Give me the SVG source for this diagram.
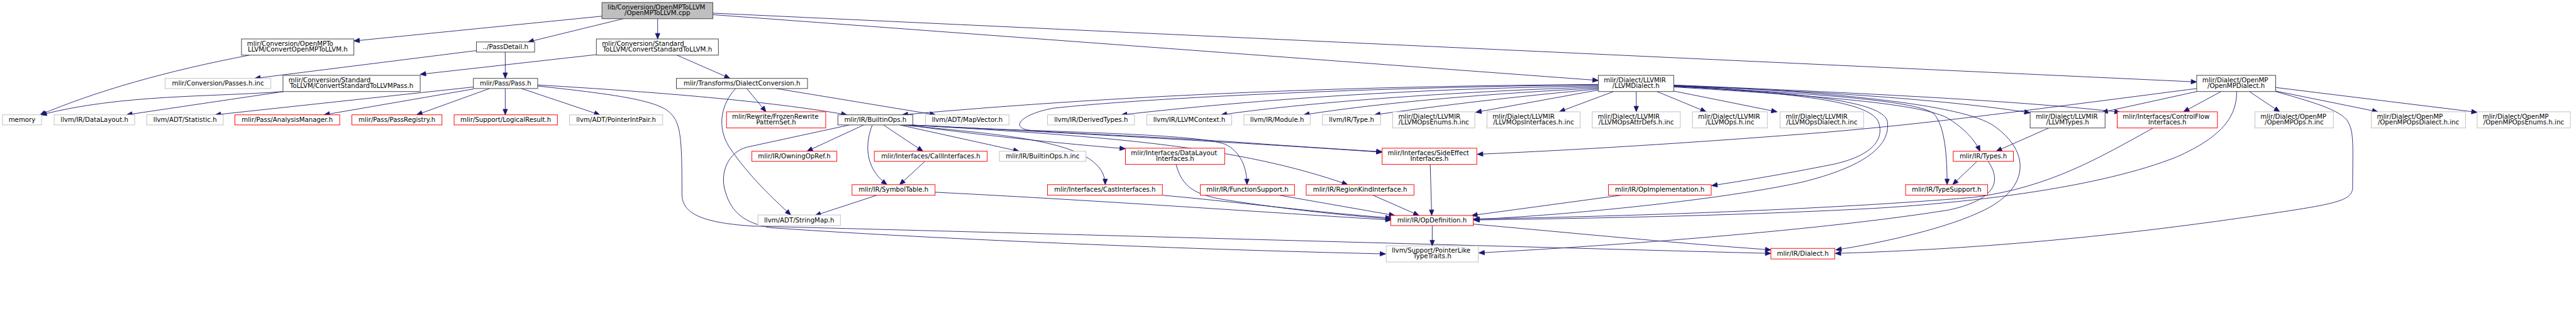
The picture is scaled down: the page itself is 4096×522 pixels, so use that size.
<svg xmlns="http://www.w3.org/2000/svg" width="4096" height="522" viewBox="0 0 4096 522">
<style>
.n rect{fill:#fff;stroke-width:1.2}
.k rect{stroke:#404040}
.g rect{stroke:#bfbfbf}
.r rect{stroke:#ff0000}
.root rect{fill:#bfbfbf;stroke:#404040}
text{font-family:"DejaVu Sans",sans-serif;font-size:12.7px;fill:#000}
.c{text-anchor:middle}
#edges path{fill:none;stroke:#191970;stroke-width:1.1;marker-end:url(#a)}
</style>
<defs>
<marker id="a" markerUnits="userSpaceOnUse" markerWidth="12" markerHeight="10" refX="11" refY="4.5" orient="auto" overflow="visible"><path d="M0,0L11,4.5L0,9z" fill="#191970" stroke="#191970" stroke-width="1"/></marker>
</defs>
<rect width="4096" height="522" fill="#fff"/>
<g transform="scale(0.805)">
<g id="edges">
<path d="M1189,32L699,81"/>
<path d="M1231,37L1043,83"/>
<path d="M1299,37L1299,77"/>
<path d="M1408,29L3157,159"/>
<path d="M1408,26L4339,162"/>
<path d="M493,109C330,140 190,180 79,227"/>
<path d="M559,181C420,192 240,186 81,227"/>
<path d="M560,181L250,227"/>
<path d="M941,100L503,155"/>
<path d="M998,103L998,155"/>
<path d="M1178,108L830,147"/>
<path d="M1337,109L1442,155"/>
<path d="M935,172L425,227"/>
<path d="M935,176L640,227"/>
<path d="M967,175L823,227"/>
<path d="M998,175L998,227"/>
<path d="M1030,175L1185,227"/>
<path d="M1062,168C1300,182 1520,200 1673,227"/>
<path d="M1062,170C1180,183 1290,195 1320,220C1345,240 1347,270 1347,383C1347,420 1380,440 1487,447C2000,460 3000,488 3498,501"/>
<path d="M1475,175L1513,221"/>
<path d="M1453,175C1425,205 1415,250 1440,290C1480,350 1530,395 1562,425"/>
<path d="M1533,175L1848,227"/>
<path d="M1706,247L1594,299"/>
<path d="M1723,247C1710,280 1705,330 1752,365"/>
<path d="M1745,247L1823,299"/>
<path d="M1777,247L2013,299"/>
<path d="M1780,247C2000,268 2183,280 2183,365"/>
<path d="M1790,247C1900,262 2050,280 2223,294"/>
<path d="M1795,247C2050,262 2350,262 2420,285C2450,300 2463,330 2463,365"/>
<path d="M1800,247C2100,262 2500,285 2730,301"/>
<path d="M1795,247C2200,270 2450,290 2662,365"/>
<path d="M1678,247L1475,291C1440,300 1420,340 1433,380C1445,420 1470,440 1520,450C1800,470 2300,492 2737,502"/>
<path d="M3157,167C2700,170 2250,185 1782,227"/>
<path d="M3157,168C2700,172 2250,195 2080,214C2020,225 1995,250 2030,257C2060,262 2300,270 2500,285C2600,292 2680,297 2730,300"/>
<path d="M3157,170C2800,175 2500,195 2215,227"/>
<path d="M3157,172C2900,180 2600,200 2412,227"/>
<path d="M3157,174C2950,185 2750,200 2575,227"/>
<path d="M3157,176C3000,190 2850,208 2715,227"/>
<path d="M3157,178L2915,222"/>
<path d="M3187,181L3080,221"/>
<path d="M3232,181L3232,221"/>
<path d="M3273,181L3370,221"/>
<path d="M3306,180L3510,221"/>
<path d="M3306,168C3700,185 4000,200 4188,222"/>
<path d="M3306,170C3600,180 3850,198 4010,223"/>
<path d="M3306,171C3600,185 3790,200 3820,225C3842,250 3846,310 3846,365"/>
<path d="M3306,172C3600,190 3800,205 3850,235C3880,255 3900,275 3911,299"/>
<path d="M3306,169C3600,180 3880,205 3940,250C4010,300 4010,370 3920,415C3850,450 3720,480 3626,494"/>
<path d="M3306,170C3550,185 3690,200 3710,240C3725,280 3690,310 3620,325C3520,345 3440,358 3381,367"/>
<path d="M3306,170C3600,185 3720,205 3728,240C3735,290 3680,330 3560,360C3400,395 3100,425 2911,434"/>
<path d="M4047,253L3943,299"/>
<path d="M3905,319L3857,365"/>
<path d="M3927,319C3955,360 3940,395 3850,415C3600,455 3200,485 2921,500"/>
<path d="M4387,181L4313,221"/>
<path d="M4443,181L4503,221"/>
<path d="M4495,173L4893,222"/>
<path d="M4495,180L4697,221"/>
<path d="M4339,181L4152,222"/>
<path d="M4339,175L4200,193C3950,225 3800,245 3600,262C3400,278 3150,295 2918,305"/>
<path d="M4418,181C4418,230 4390,270 4300,310C4150,370 3900,400 3700,412C3400,428 3100,432 2911,435"/>
<path d="M4495,181C4580,205 4630,220 4640,245C4650,265 4647,300 4647,370C4647,395 4620,402 4500,420C4300,450 4000,490 3625,501"/>
<path d="M4253,253C4150,310 4050,370 3900,390C3600,415 3200,428 2911,433"/>
<path d="M3202,386L2907,426"/>
<path d="M2825,325L2828,426"/>
<path d="M2712,386L2803,426"/>
<path d="M2527,386L2755,426"/>
<path d="M2297,386C2450,400 2600,420 2748,431"/>
<path d="M2323,325C2335,370 2360,385 2420,395C2550,415 2650,425 2748,433"/>
<path d="M1847,380C2200,398 2500,420 2748,435"/>
<path d="M1732,386L1610,426"/>
<path d="M1827,319L1777,365"/>
<path d="M2829,446L2829,486"/>
<path d="M2910,443C3100,460 3300,480 3498,494"/>
</g>
<g id="n0" class="n root"><rect x="1189" y="5" width="219" height="32"/><text x="1200" y="18.5">lib/Conversion/OpenMPToLLVM</text><text class="c" x="1298.5" y="29.8">/OpenMPToLLVM.cpp</text></g>
<g id="n1" class="n k"><rect x="477" y="77" width="222" height="32"/><text x="488" y="90.5">mlir/Conversion/OpenMPTo</text><text class="c" x="588" y="101.8">LLVM/ConvertOpenMPToLLVM.h</text></g>
<g id="n2" class="n k"><rect x="941" y="83" width="115" height="20"/><text class="c" x="998.5" y="96.8">../PassDetail.h</text></g>
<g id="n3" class="n k"><rect x="1178" y="77" width="241" height="32"/><text x="1189" y="90.5">mlir/Conversion/Standard</text><text class="c" x="1298.5" y="101.8">ToLLVM/ConvertStandardToLLVM.h</text></g>
<g id="n4" class="n k"><rect x="3157" y="149" width="149" height="32"/><text x="3168" y="162.5">mlir/Dialect/LLVMIR</text><text class="c" x="3231.5" y="173.8">/LLVMDialect.h</text></g>
<g id="n5" class="n k"><rect x="4339" y="149" width="156" height="32"/><text x="4350" y="162.5">mlir/Dialect/OpenMP</text><text class="c" x="4417" y="173.8">/OpenMPDialect.h</text></g>
<g id="n6" class="n g"><rect x="5" y="227" width="77" height="20"/><text class="c" x="43.5" y="240.8">memory</text></g>
<g id="n7" class="n g"><rect x="326" y="155" width="209" height="20"/><text class="c" x="430.5" y="168.8">mlir/Conversion/Passes.h.inc</text></g>
<g id="n8" class="n k"><rect x="935" y="155" width="127" height="20"/><text class="c" x="998.5" y="168.8">mlir/Pass/Pass.h</text></g>
<g id="n9" class="n k"><rect x="559" y="149" width="271" height="32"/><text x="570" y="162.5">mlir/Conversion/Standard</text><text class="c" x="694.5" y="173.8">ToLLVM/ConvertStandardToLLVMPass.h</text></g>
<g id="n10" class="n k"><rect x="1336" y="155" width="259" height="20"/><text class="c" x="1465.5" y="168.8">mlir/Transforms/DialectConversion.h</text></g>
<g id="n11" class="n g"><rect x="107" y="227" width="159" height="20"/><text class="c" x="186.5" y="240.8">llvm/IR/DataLayout.h</text></g>
<g id="n12" class="n g"><rect x="290" y="227" width="151" height="20"/><text class="c" x="365.5" y="240.8">llvm/ADT/Statistic.h</text></g>
<g id="n13" class="n r"><rect x="464" y="227" width="207" height="20"/><text class="c" x="567.5" y="240.8">mlir/Pass/AnalysisManager.h</text></g>
<g id="n14" class="n r"><rect x="695" y="227" width="178" height="20"/><text class="c" x="784" y="240.8">mlir/Pass/PassRegistry.h</text></g>
<g id="n15" class="n r"><rect x="897" y="227" width="204" height="20"/><text class="c" x="999" y="240.8">mlir/Support/LogicalResult.h</text></g>
<g id="n16" class="n g"><rect x="1125" y="227" width="184" height="20"/><text class="c" x="1217" y="240.8">llvm/ADT/PointerIntPair.h</text></g>
<g id="n17" class="n r"><rect x="1435" y="221" width="196" height="32"/><text x="1446" y="234.5">mlir/Rewrite/FrozenRewrite</text><text class="c" x="1533" y="245.8">PatternSet.h</text></g>
<g id="n18" class="n k"><rect x="1655" y="227" width="148" height="20"/><text class="c" x="1729" y="240.8">mlir/IR/BuiltinOps.h</text></g>
<g id="n19" class="n g"><rect x="1828" y="227" width="165" height="20"/><text class="c" x="1910.5" y="240.8">llvm/ADT/MapVector.h</text></g>
<g id="n20" class="n g"><rect x="2069" y="227" width="172" height="20"/><text class="c" x="2155" y="240.8">llvm/IR/DerivedTypes.h</text></g>
<g id="n21" class="n g"><rect x="2265" y="227" width="168" height="20"/><text class="c" x="2349" y="240.8">llvm/IR/LLVMContext.h</text></g>
<g id="n22" class="n g"><rect x="2457" y="227" width="131" height="20"/><text class="c" x="2522.5" y="240.8">llvm/IR/Module.h</text></g>
<g id="n23" class="n g"><rect x="2612" y="227" width="115" height="20"/><text class="c" x="2669.5" y="240.8">llvm/IR/Type.h</text></g>
<g id="n24" class="n g"><rect x="2751" y="221" width="162" height="32"/><text x="2762" y="234.5">mlir/Dialect/LLVMIR</text><text class="c" x="2832" y="245.8">/LLVMOpsEnums.h.inc</text></g>
<g id="n25" class="n g"><rect x="2937" y="221" width="184" height="32"/><text x="2948" y="234.5">mlir/Dialect/LLVMIR</text><text class="c" x="3029" y="245.8">/LLVMOpsInterfaces.h.inc</text></g>
<g id="n26" class="n g"><rect x="3145" y="221" width="174" height="32"/><text x="3156" y="234.5">mlir/Dialect/LLVMIR</text><text class="c" x="3232" y="245.8">/LLVMOpsAttrDefs.h.inc</text></g>
<g id="n27" class="n g"><rect x="3343" y="221" width="148" height="32"/><text x="3354" y="234.5">mlir/Dialect/LLVMIR</text><text class="c" x="3417" y="245.8">/LLVMOps.h.inc</text></g>
<g id="n28" class="n g"><rect x="3516" y="221" width="165" height="32"/><text x="3527" y="234.5">mlir/Dialect/LLVMIR</text><text class="c" x="3598.5" y="245.8">/LLVMOpsDialect.h.inc</text></g>
<g id="n29" class="n k"><rect x="4010" y="221" width="148" height="32"/><text x="4021" y="234.5">mlir/Dialect/LLVMIR</text><text class="c" x="4084" y="245.8">/LLVMTypes.h</text></g>
<g id="n30" class="n r"><rect x="4182" y="221" width="198" height="32"/><text x="4193" y="234.5">mlir/Interfaces/ControlFlow</text><text class="c" x="4281" y="245.8">Interfaces.h</text></g>
<g id="n31" class="n g"><rect x="4454" y="221" width="155" height="32"/><text x="4465" y="234.5">mlir/Dialect/OpenMP</text><text class="c" x="4531.5" y="245.8">/OpenMPOps.h.inc</text></g>
<g id="n32" class="n g"><rect x="4684" y="221" width="186" height="32"/><text x="4695" y="234.5">mlir/Dialect/OpenMP</text><text class="c" x="4777" y="245.8">/OpenMPOpsDialect.h.inc</text></g>
<g id="n33" class="n g"><rect x="4893" y="221" width="184" height="32"/><text x="4904" y="234.5">mlir/Dialect/OpenMP</text><text class="c" x="4985" y="245.8">/OpenMPOpsEnums.h.inc</text></g>
<g id="n34" class="n r"><rect x="1485" y="299" width="168" height="20"/><text class="c" x="1569" y="312.8">mlir/IR/OwningOpRef.h</text></g>
<g id="n35" class="n r"><rect x="1727" y="299" width="223" height="20"/><text class="c" x="1838.5" y="312.8">mlir/Interfaces/CallInterfaces.h</text></g>
<g id="n36" class="n g"><rect x="1974" y="299" width="171" height="20"/><text class="c" x="2059.5" y="312.8">mlir/IR/BuiltinOps.h.inc</text></g>
<g id="n37" class="n r"><rect x="2223" y="293" width="196" height="32"/><text x="2234" y="306.5">mlir/Interfaces/DataLayout</text><text class="c" x="2321" y="317.8">Interfaces.h</text></g>
<g id="n38" class="n r"><rect x="2730" y="293" width="187" height="32"/><text x="2741" y="306.5">mlir/Interfaces/SideEffect</text><text class="c" x="2823.5" y="317.8">Interfaces.h</text></g>
<g id="n39" class="n r"><rect x="3858" y="299" width="119" height="20"/><text class="c" x="3917.5" y="312.8">mlir/IR/Types.h</text></g>
<g id="n40" class="n r"><rect x="1683" y="365" width="164" height="21"/><text class="c" x="1765" y="379.3">mlir/IR/SymbolTable.h</text></g>
<g id="n41" class="n r"><rect x="2069" y="365" width="227" height="21"/><text class="c" x="2182.5" y="379.3">mlir/Interfaces/CastInterfaces.h</text></g>
<g id="n42" class="n r"><rect x="2371" y="365" width="186" height="21"/><text class="c" x="2464" y="379.3">mlir/IR/FunctionSupport.h</text></g>
<g id="n43" class="n r"><rect x="2580" y="365" width="213" height="21"/><text class="c" x="2686.5" y="379.3">mlir/IR/RegionKindInterface.h</text></g>
<g id="n44" class="n r"><rect x="3177" y="365" width="203" height="21"/><text class="c" x="3278.5" y="379.3">mlir/IR/OpImplementation.h</text></g>
<g id="n45" class="n r"><rect x="3764" y="365" width="162" height="21"/><text class="c" x="3845" y="379.3">mlir/IR/TypeSupport.h</text></g>
<g id="n46" class="n g"><rect x="1497" y="425" width="163" height="21"/><text class="c" x="1578.5" y="439.3">llvm/ADT/StringMap.h</text></g>
<g id="n47" class="n r"><rect x="2747" y="426" width="163" height="20"/><text class="c" x="2828.5" y="439.8">mlir/IR/OpDefinition.h</text></g>
<g id="n48" class="n g"><rect x="2738" y="486" width="182" height="32"/><text x="2749" y="499.5">llvm/Support/PointerLike</text><text class="c" x="2829" y="510.8">TypeTraits.h</text></g>
<g id="n49" class="n r"><rect x="3498" y="491" width="126" height="21"/><text class="c" x="3561" y="505.3">mlir/IR/Dialect.h</text></g>
</g>
</svg>
